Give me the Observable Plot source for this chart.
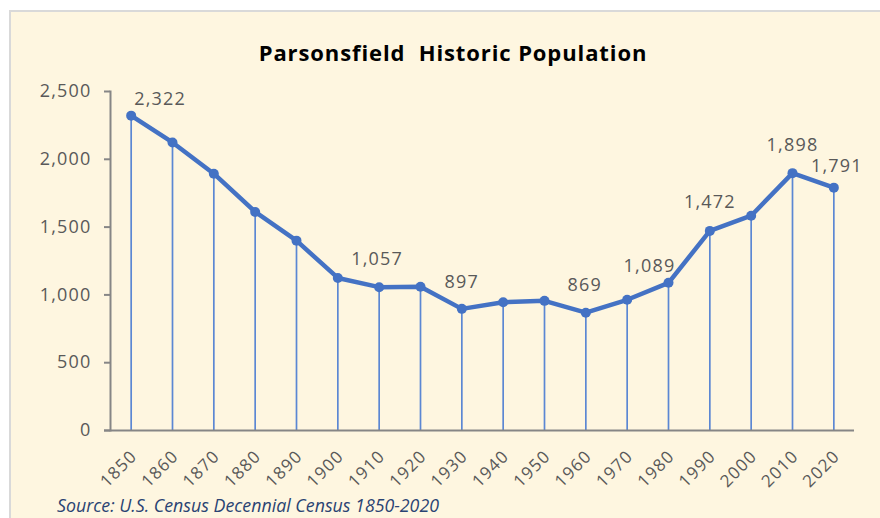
<!DOCTYPE html>
<html>
<head>
<meta charset="utf-8">
<script src="https://cdn.jsdelivr.net/npm/d3@7"></script>
<script src="https://cdn.jsdelivr.net/npm/@observablehq/plot@0.6"></script>
<style>
  html, body { margin: 0; padding: 0; background: #ffffff; }
  body { width: 880px; height: 518px; position: relative; overflow: hidden; }
  #panel { position: absolute; left: 9px; top: 10px; width: 871px; height: 508px; box-sizing: border-box;
           background: #FEF6E0; border-top: 2px solid #D9D9D9; border-left: 2px solid #D9D9D9; }
  #title { position: absolute; left: 0; top: 37px; width: 906px; text-align: center; white-space: pre;
           font-family: "Open Sans", sans-serif; font-weight: bold; font-size: 22px; letter-spacing: 0.9px;
           line-height: 30px; color: #000; }
  #chart { position: absolute; left: 0; top: 70px; }
  #caption { position: absolute; left: 57px; top: 493px; font-family: "Open Sans", sans-serif; font-style: italic;
             font-size: 17.8px; line-height: 24px; color: #2A4373; }
</style>
</head>
<body>
<div id="panel"></div>
<div id="title">Parsonsfield  Historic Population</div>
<div id="chart"></div>
<div id="caption">Source: U.S. Census Decennial Census 1850-2020</div>
<script>
const years = [1850, 1860, 1870, 1880, 1890, 1900, 1910, 1920, 1930, 1940, 1950, 1960, 1970, 1980, 1990, 2000, 2010, 2020];
const population = [2322, 2124, 1894, 1612, 1400, 1125, 1057, 1060, 897, 946, 956, 869, 964, 1089, 1472, 1584, 1898, 1791];
const yTicks = [0, 500, 1000, 1500, 2000, 2500];
const labeledYears = [1850, 1910, 1930, 1960, 1980, 1990, 2010, 2020];

const data = years.map((y, i) => ({year: String(y), pop: population[i]}));
const labelData = data.filter(d => labeledYears.includes(+d.year));
const fmt = d3.format(",");

// label placement offsets (style, not data)
const off = {1850: [29, -16], 1910: [-2, -28], 1930: [0, -27], 1960: [-1, -27], 1980: [-19, -17], 1990: [0, -29], 2010: [0, -28], 2020: [3, -21]};
const labelMarks = labelData.map(d => Plot.text([d], {
  x: "year", y: "pop", text: d => fmt(d.pop), dx: off[+d.year][0], dy: off[+d.year][1],
  fill: "#595959", fontSize: 18
}));

const chart = Plot.plot({
  width: 880, height: 420,
  marginTop: 21, marginBottom: 60, marginLeft: 110, marginRight: 26,
  style: {background: "transparent", fontFamily: "'Open Sans', sans-serif", overflow: "visible", letterSpacing: "1.2px"},
  x: {type: "point", domain: years.map(String), padding: 0.5, round: false},
  y: {domain: [0, 2500]},
  marks: [
    Plot.ruleX(data, {x: "year", y1: 0, y2: "pop", stroke: "#5B87D3", strokeWidth: 1.7}),
    Plot.axisY({ticks: yTicks, tickFormat: fmt, tickSize: 6, tickPadding: 13, stroke: "#868686", strokeWidth: 2,
                fill: "#595959", fontSize: 18, label: null}),
    Plot.axisX({tickSize: 0, tickRotate: -45, tickPadding: 23, dx: 3, fill: "#595959", fontSize: 17, label: null}),
    Plot.frame({anchor: "left", stroke: "#868686", strokeWidth: 2}),
    Plot.ruleY([0], {stroke: "#868686", strokeWidth: 2, insetLeft: -6}),
    Plot.line(data, {x: "year", y: "pop", stroke: "#4472C4", strokeWidth: 4.5}),
    Plot.dot(data, {x: "year", y: "pop", r: 5, fill: "#4472C4"}),
    ...labelMarks
  ]
});
document.getElementById("chart").appendChild(chart);
</script>
</body>
</html>
